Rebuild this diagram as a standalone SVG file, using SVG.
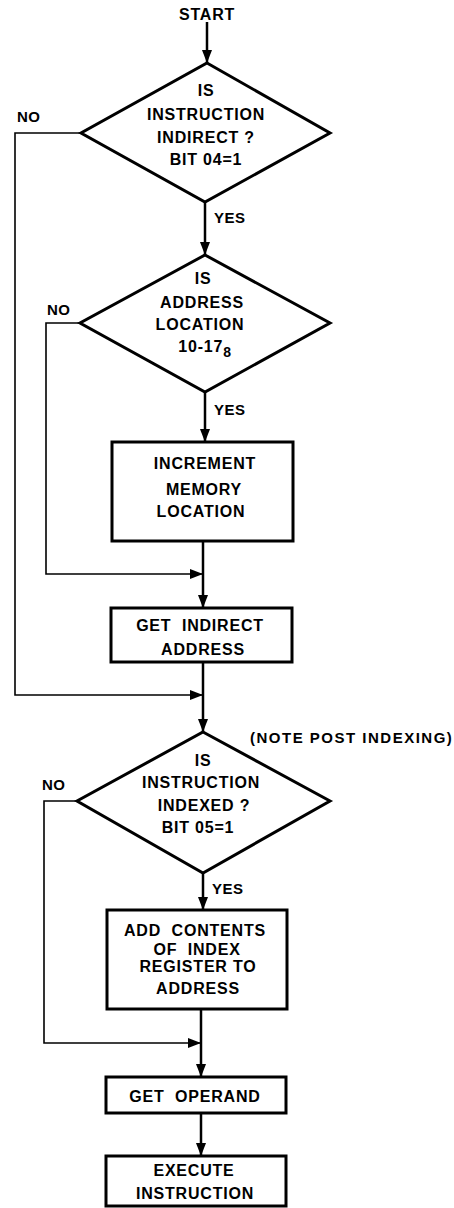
<svg xmlns="http://www.w3.org/2000/svg" width="454" height="1208" viewBox="0 0 454 1208">
  <style>
    .box { fill: #fff; stroke: #000; stroke-width: 3; stroke-linejoin: miter; }
    .lbl { font-family: "Liberation Sans", Arial, sans-serif; font-weight: bold; font-size: 16px; letter-spacing: 0.8px; fill: #000; text-anchor: middle; }
    .side { font-family: "Liberation Sans", Arial, sans-serif; font-weight: bold; font-size: 15px; letter-spacing: 0.5px; fill: #000; }
    .note { letter-spacing: 1.5px; }
    .flow { fill: none; stroke: #000; stroke-width: 2.5; }
    .bypass { fill: none; stroke: #000; stroke-width: 1.6; }
  </style>
  <defs>
    <marker id="arrow" viewBox="0 0 13 10" refX="13" refY="5" markerWidth="13" markerHeight="10" markerUnits="userSpaceOnUse" orient="auto">
      <path d="M0,0 L13,5 L0,10 z" fill="#000"/>
    </marker>
  </defs>

  <rect width="454" height="1208" fill="#fff"/>

  <!-- connectors -->
  <g id="connectors">
    <path class="flow" d="M207,22 V63" marker-end="url(#arrow)"/>
    <path class="flow" d="M205,202 V255" marker-end="url(#arrow)"/>
    <path class="flow" d="M205,392 V442" marker-end="url(#arrow)"/>
    <path class="flow" d="M203,541 V608" marker-end="url(#arrow)"/>
    <path class="bypass" d="M80,323 H46 V574 H203" marker-end="url(#arrow)"/>
    <path class="flow" d="M203,662 V732" marker-end="url(#arrow)"/>
    <path class="bypass" d="M81,133 H15 V695 H203" marker-end="url(#arrow)"/>
    <path class="flow" d="M203,873 V910" marker-end="url(#arrow)"/>
    <path class="flow" d="M201,1009 V1077" marker-end="url(#arrow)"/>
    <path class="bypass" d="M77,801 H44 V1043 H201" marker-end="url(#arrow)"/>
    <path class="flow" d="M201,1113 V1156" marker-end="url(#arrow)"/>
  </g>

  <!-- branch labels -->
  <g id="labels">
    <text class="lbl" x="207" y="20">START</text>
    <text class="side" x="17" y="122">NO</text>
    <text class="side" x="214" y="223">YES</text>
    <text class="side" x="47" y="315">NO</text>
    <text class="side" x="214" y="415">YES</text>
    <text class="side note" x="250" y="743">(NOTE POST INDEXING)</text>
    <text class="side" x="42" y="790">NO</text>
    <text class="side" x="212" y="894">YES</text>
  </g>

  <g id="is-indirect">
    <polygon class="box" points="207,63 330,133 205,202 81,133"/>
    <text class="lbl" x="206" y="96">IS</text>
    <text class="lbl" x="206" y="120">INSTRUCTION</text>
    <text class="lbl" x="206" y="143">INDIRECT ?</text>
    <text class="lbl" x="206" y="165">BIT 04=1</text>
  </g>

  <g id="is-auto-index">
    <polygon class="box" points="205,255 330,323 205,392 80,323"/>
    <text class="lbl" x="203" y="284">IS</text>
    <text class="lbl" x="202" y="308">ADDRESS</text>
    <text class="lbl" x="200" y="330">LOCATION</text>
    <text class="lbl" x="205" y="352">10-17<tspan font-size="14" dy="5">8</tspan></text>
  </g>

  <g id="increment">
    <rect class="box" x="112" y="442" width="181" height="99"/>
    <text class="lbl" x="205" y="469">INCREMENT</text>
    <text class="lbl" x="204" y="495">MEMORY</text>
    <text class="lbl" x="201" y="517">LOCATION</text>
  </g>

  <g id="get-indirect">
    <rect class="box" x="111" y="608" width="181" height="54"/>
    <text class="lbl" x="200" y="631" xml:space="preserve">GET  INDIRECT</text>
    <text class="lbl" x="203" y="655">ADDRESS</text>
  </g>

  <g id="is-indexed">
    <polygon class="box" points="203,732 330,801 203,873 77,801"/>
    <text class="lbl" x="203" y="766">IS</text>
    <text class="lbl" x="201" y="788">INSTRUCTION</text>
    <text class="lbl" x="204" y="811">INDEXED ?</text>
    <text class="lbl" x="198" y="833">BIT 05=1</text>
  </g>

  <g id="add-index">
    <rect class="box" x="107" y="910" width="180" height="99"/>
    <text class="lbl" x="195" y="936" xml:space="preserve">ADD  CONTENTS</text>
    <text class="lbl" x="197" y="955" xml:space="preserve">OF  INDEX</text>
    <text class="lbl" x="198" y="972">REGISTER TO</text>
    <text class="lbl" x="198" y="994">ADDRESS</text>
  </g>

  <g id="get-operand">
    <rect class="box" x="106" y="1077" width="180" height="36"/>
    <text class="lbl" x="195" y="1102" xml:space="preserve">GET  OPERAND</text>
  </g>

  <g id="execute">
    <rect class="box" x="106" y="1156" width="180" height="50"/>
    <text class="lbl" x="194" y="1176">EXECUTE</text>
    <text class="lbl" x="195" y="1199">INSTRUCTION</text>
  </g>
</svg>
